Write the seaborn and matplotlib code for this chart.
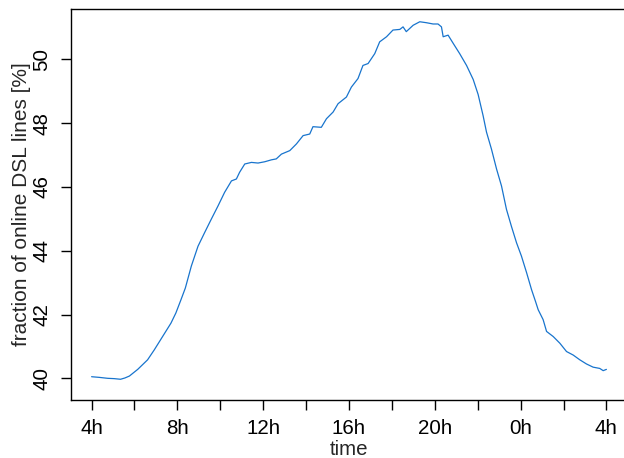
import matplotlib
matplotlib.use("Agg")
import matplotlib.pyplot as plt
import seaborn as sns
import pandas as pd

# hour of day (4h .. 4h next day, as 4..28) and share of DSL lines online [%]
hours = [4.00, 4.35, 4.75, 5.05, 5.35, 5.55, 5.76, 6.15, 6.61, 6.92, 7.31, 7.70,
         7.93, 8.17, 8.37, 8.65, 8.96, 9.27, 9.58, 9.89, 10.20, 10.52, 10.75,
         10.90, 11.14, 11.45, 11.76, 12.07, 12.38, 12.61, 12.85, 13.24, 13.55,
         13.86, 14.17, 14.32, 14.71, 14.95, 15.26, 15.49, 15.88, 16.11, 16.42,
         16.65, 16.89, 17.20, 17.43, 17.75, 18.05, 18.37, 18.52, 18.67, 18.99,
         19.30, 19.61, 19.92, 20.15, 20.31, 20.39, 20.62, 20.86, 21.16, 21.48,
         21.79, 22.02, 22.25, 22.41, 22.64, 22.88, 23.11, 23.34, 23.57, 23.81,
         24.04, 24.28, 24.51, 24.70, 24.82, 25.05, 25.21, 25.52, 25.83, 26.14,
         26.45, 26.76, 27.07, 27.38, 27.69, 27.85, 28.00]
online_pct = [40.05, 40.03, 40.00, 39.99, 39.97, 40.01, 40.07, 40.28, 40.58, 40.89,
              41.31, 41.73, 42.05, 42.47, 42.83, 43.52, 44.14, 44.57, 44.99, 45.40,
              45.83, 46.19, 46.25, 46.46, 46.72, 46.77, 46.75, 46.79, 46.85, 46.88,
              47.03, 47.14, 47.35, 47.61, 47.66, 47.89, 47.87, 48.14, 48.35, 48.61,
              48.82, 49.13, 49.40, 49.81, 49.87, 50.18, 50.55, 50.71, 50.92, 50.94,
              51.02, 50.87, 51.07, 51.18, 51.15, 51.11, 51.11, 51.02, 50.71, 50.76,
              50.50, 50.18, 49.81, 49.37, 48.90, 48.24, 47.72, 47.19, 46.56, 46.03,
              45.30, 44.77, 44.25, 43.83, 43.31, 42.78, 42.40, 42.15, 41.84, 41.47,
              41.31, 41.10, 40.84, 40.73, 40.58, 40.45, 40.35, 40.31, 40.24, 40.28]

x_ticks = [4, 6, 8, 10, 12, 14, 16, 18, 20, 22, 24, 26, 28]
x_tick_labels = ["4h", "", "8h", "", "12h", "", "16h", "", "20h", "", "0h", "", "4h"]
y_ticks = [40, 42, 44, 46, 48, 50]

df = pd.DataFrame({"time": hours, "online": online_pct})

sns.set_theme(style="ticks")
plt.rcParams["font.family"] = ["Liberation Sans", "DejaVu Sans"]

W, H = 624, 458
fig = plt.figure(figsize=(W / 100, H / 100), dpi=100)
ax = fig.add_axes([71 / W, (H - 400) / H, (627 - 71) / W, (400 - 9) / H])

sns.lineplot(data=df, x="time", y="online", ax=ax, color="#1874CD", linewidth=0.9)

ax.set_xlim(3.04, 28.96)
ax.set_ylim(39.32, 51.58)
ax.set_xticks(x_ticks)
ax.set_xticklabels(x_tick_labels)
ax.set_yticks(y_ticks)
ax.set_yticklabels([str(v) for v in y_ticks], rotation=90, va="center")

ax.tick_params(axis="both", direction="out", length=7, width=1, color="black",
               labelsize=14.8, labelcolor="black", pad=7)
for s in ax.spines.values():
    s.set_visible(True)
    s.set_linewidth(1)
    s.set_color("black")

ax.set_xlabel("time", fontsize=14.8, labelpad=1)
ax.set_ylabel("fraction of online DSL lines [%]", fontsize=15, labelpad=1)

fig.savefig("out.png", dpi=100)
